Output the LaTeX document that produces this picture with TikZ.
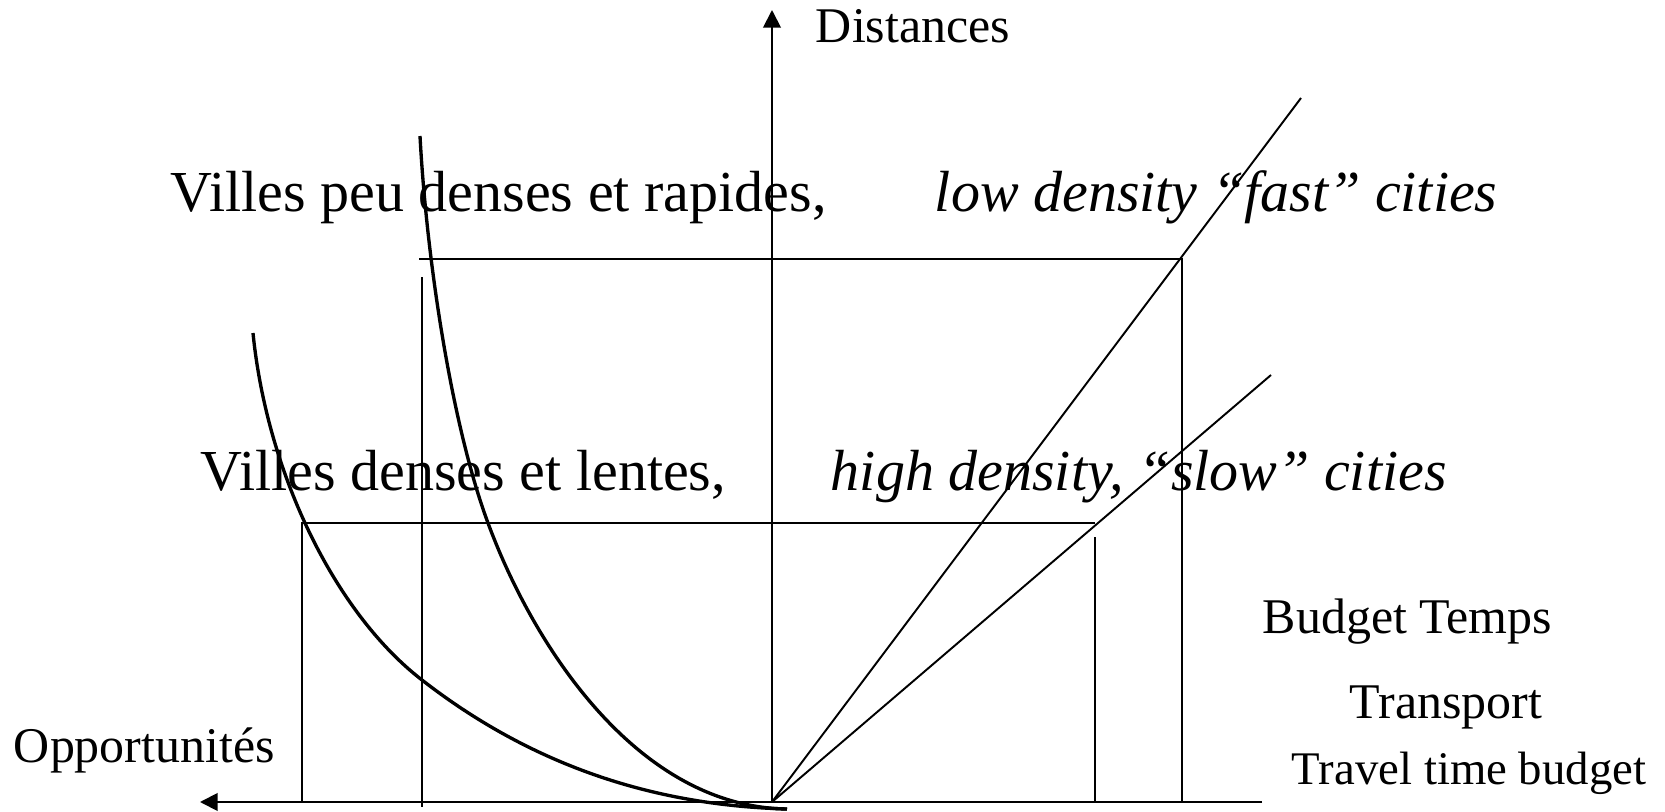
\documentclass[tikz,border=0pt]{standalone}
\usepackage{fontspec}
\setmainfont{Liberation Serif}
\usetikzlibrary{arrows.meta}
\begin{document}
\begin{tikzpicture}[x=0.01cm, y=-0.01cm, line width=0.55pt,
  petit/.style={inner sep=0pt, anchor=base west, font=\fontsize{14.2}{17}\selectfont},
  grand/.style={inner sep=0pt, anchor=base west, font=\fontsize{16.5}{20}\selectfont},
  courbe/.style={line width=0.95pt},
  fleche/.style={-{Triangle[length=5pt, width=5pt]}}]
  \useasboundingbox (0,0) rectangle (1665,812);
  % axes
  \coordinate (O) at (772,802);
  \coordinate (yhaut) at (772,10);
  \coordinate (xfin) at (1262,802);
  \coordinate (xgauche) at (200,802);
  \draw[fleche] (O) -- (yhaut);
  \draw[fleche] (xfin) -- (xgauche);
  % budget lines
  \coordinate (rapide) at (1301,98);
  \coordinate (lente) at (1271,375);
  \draw (O) -- (rapide);
  \draw (O) -- (lente);
  % upper box (fast cities)
  \coordinate (hg) at (419,259);
  \coordinate (hd) at (1182,259);
  \coordinate (hdbas) at (1182,802);
  \coordinate (hv1) at (422,277);
  \coordinate (hv2) at (422,807);
  \draw (hg) -- (hd) -- (hdbas);
  \draw (hv1) -- (hv2);
  % lower box (slow cities)
  \coordinate (bg) at (302,523);
  \coordinate (bd) at (1095,523);
  \coordinate (bgbas) at (302,802);
  \coordinate (bv1) at (1095,537);
  \coordinate (bv2) at (1095,802);
  \draw (bgbas) -- (bg) -- (bd);
  \draw (bv1) -- (bv2);
  % opportunity curves
  \coordinate (fin) at (787,809);
  \coordinate (c1haut) at (420,136);
  \coordinate (c1mil) at (488,523);
  \coordinate (c2haut) at (253,333);
  \coordinate (c2mil) at (422,680);
  \draw[courbe] (c1haut) .. controls (427,266) and (453,429) .. (c1mil)
    .. controls (533,645) and (637,807) .. (fin);
  \draw[courbe] (c2haut) .. controls (267,473) and (335,613) .. (c2mil)
    .. controls (548,778) and (677,806) .. (fin);
  % labels
  \node[petit] (dist) at (815,42) {Distances};
  \node[petit] (opp) at (13,762) {Opportunités};
  \node[grand] (fr1) at (170,212) {Villes peu denses et rapides,};
  \node[grand] (en1) at (934,212) {\itshape low density “fast” cities};
  \node[grand] (fr2) at (200,490) {Villes denses et lentes,};
  \node[grand] (en2) at (830,490) {\itshape high density, “slow” cities};
  \node[petit] (bt1) at (1262,633) {Budget Temps};
  \node[petit] (bt2) at (1349,718) {Transport};
  \node[petit, font=\fontsize{13.3}{16}\selectfont] (bt3) at (1291,784) {Travel time budget};
\end{tikzpicture}
\end{document}
